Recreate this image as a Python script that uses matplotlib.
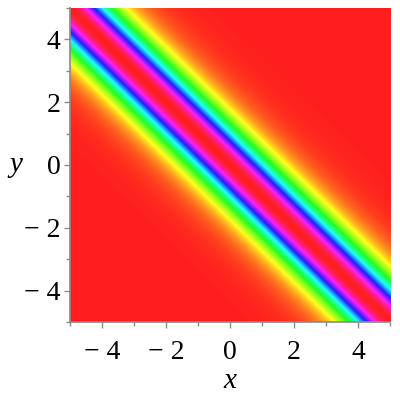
import numpy as np
import matplotlib
matplotlib.use("Agg")
import matplotlib.pyplot as plt
from matplotlib.colors import ListedColormap, hsv_to_rgb

# plot window and the travelling-wave profile u = sech^2(k (x + y - s0))
x_range = [-5, 5]
y_range = [-5, 5]
wave_k = 0.87
wave_s0 = 0.0
grid_n = 300

x_ticks = [-4, -2, 0, 2, 4]
y_ticks = [-4, -2, 0, 2, 4]
minor_ticks = [-5, -3, -1, 1, 3, 5]
tick_text = ['\u2212 4', '\u2212 2', '0', '2', '4']

plt.rcParams['font.family'] = 'serif'
plt.rcParams['font.serif'] = ['Liberation Serif', 'DejaVu Serif']
plt.rcParams['axes.unicode_minus'] = True


def profile(x, y):
    return 1.0 / np.cosh(wave_k * (x + y - wave_s0)) ** 2


# maple style HUE colouring: full hue cycle, red at both ends
h = np.linspace(0, 1, 512)
hsv = np.stack([h, np.full_like(h, 0.88), np.ones_like(h)], axis=1)
hue_cmap = ListedColormap(hsv_to_rgb(hsv))

xs = np.linspace(x_range[0], x_range[1], grid_n)
ys = np.linspace(y_range[0], y_range[1], grid_n)
X, Y = np.meshgrid(xs, ys)
Z = profile(X, Y)

fig = plt.figure(figsize=(4, 4), dpi=100)
ax = fig.add_axes([0.175, 0.195, 0.8, 0.785])
ax.imshow(Z, extent=[x_range[0], x_range[1], y_range[0], y_range[1]],
          origin='lower', cmap=hue_cmap, vmin=0, vmax=1,
          interpolation='bilinear', aspect='auto')

ax.set_xlim(x_range)
ax.set_ylim(y_range)
for side in ['top', 'right']:
    ax.spines[side].set_visible(False)
for side in ['left', 'bottom']:
    ax.spines[side].set_color('#8a8a8a')
    ax.spines[side].set_linewidth(1.2)

ax.set_xticks(x_ticks)
ax.set_yticks(y_ticks)
ax.set_xticks(minor_ticks, minor=True)
ax.set_yticks(minor_ticks, minor=True)
ax.set_xticklabels(tick_text)
ax.set_yticklabels(tick_text)
ax.tick_params(which='both', direction='out', color='#8a8a8a', width=1,
               labelsize=20, labelcolor='black')
ax.tick_params(which='major', length=4)
ax.tick_params(which='minor', length=3)
ax.tick_params(axis='x', which='major', pad=9)
ax.tick_params(axis='y', which='major', pad=3)

ax.set_xlabel('x', fontsize=21, style='italic')
ax.set_ylabel('y', fontsize=21, style='italic', rotation=0, va='center')
ax.xaxis.set_label_coords(0.5, -0.145)
ax.yaxis.set_label_coords(-0.17, 0.5)

fig.savefig('out.png', dpi=100)
